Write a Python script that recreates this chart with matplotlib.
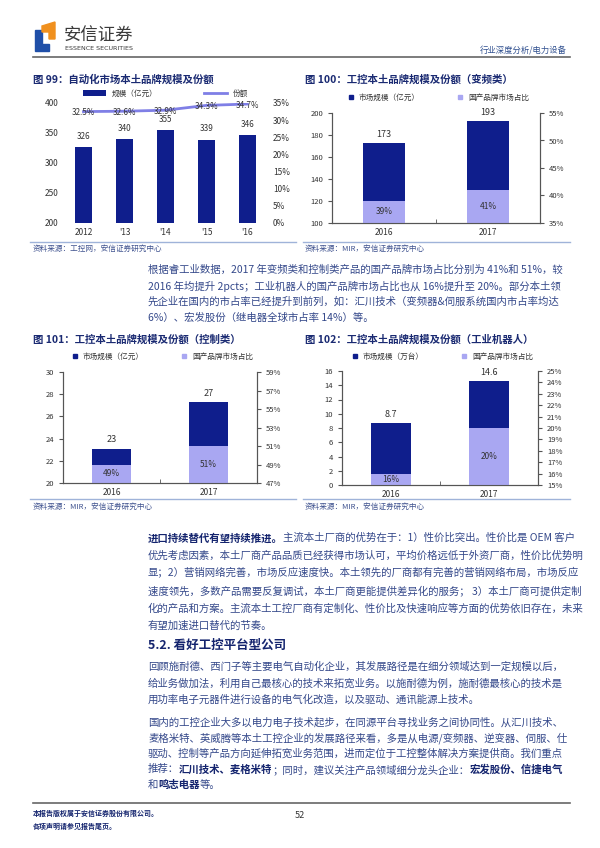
import numpy as np
import matplotlib
matplotlib.use("Agg")
import matplotlib.pyplot as plt
from matplotlib.lines import Line2D
from matplotlib.patches import Patch, Polygon

plt.rcParams["font.family"] = ["Noto Sans CJK SC", "DejaVu Sans"]

# ---- data ----
years_99 = ["2012", "'13", "'14", "'15", "'16"]
scale_99 = [326, 340, 355, 339, 346]          # 亿元
share_99 = [32.5, 32.6, 32.9, 34.3, 34.7]     # %

years_sub = ["2016", "2017"]
scale_100 = [173, 193]       # 变频类, 亿元
share_100 = [39, 41]
scale_101 = [23.1, 27.3]     # 控制类, 亿元
share_101 = [49, 51]
scale_102 = [8.7, 14.6]      # 工业机器人, 万台
share_102 = [16, 20]

NAVY = "#0f1e8c"
LIGHT = "#a9a7f2"
LINE = "#7f7fe6"
TITLE = "#1a2a72"
BODY = "#34488a"
BOLD = "#14246e"
SRC = "#3f528f"
TICK = "#333333"

W, H = 600, 848
fig = plt.figure(figsize=(6, 8.48), dpi=100)


def box(x0, y0, x1, y1):
    return [x0 / W, 1 - y1 / H, (x1 - x0) / W, (y1 - y0) / H]


def fx(x):
    return x / W


def fy(y):
    return 1 - y / H


def hline(x0, x1, y, color, lw):
    fig.add_artist(Line2D([fx(x0), fx(x1)], [fy(y), fy(y)], transform=fig.transFigure,
                          color=color, lw=lw))


def rich_line(x, y, parts, size=7.5):
    """Draw a line of text made of (string, bold) pieces next to each other."""
    r = fig.canvas.get_renderer()
    cx = x
    for s, bold in parts:
        t = fig.text(fx(cx), fy(y), s, fontsize=size, va="center", ha="left",
                     color=BOLD if bold else BODY, fontweight="bold" if bold else "normal")
        cx += t.get_window_extent(renderer=r).width


# ---- page header ----
logo = fig.add_axes(box(33, 20, 58, 54))
logo.set_xlim(33, 58)
logo.set_ylim(54, 20)
logo.axis("off")
logo.add_patch(Polygon([(35, 30), (42, 30), (42, 44), (49, 44), (49, 51), (35, 51)],
                       closed=True, color="#1f4fa8"))
logo.add_patch(Polygon([(42, 26), (55, 22), (55, 39), (49, 39), (49, 32), (42, 32)],
                       closed=True, color="#f0901e"))
fig.text(fx(64), fy(36), "安信证券", fontsize=12.5, color="#3a3a3a", va="center")
fig.text(fx(65), fy(48), "ESSENCE SECURITIES", fontsize=4.6, color="#3a3a3a", va="center",
         family="DejaVu Sans")
fig.text(fx(567), fy(51), "行业深度分析/电力设备", fontsize=6, color="#2f4f8f", ha="right", va="center")
hline(33, 570, 57, "#666666", 1.2)


# ---- figure 99 ----
fig.text(fx(33), fy(80), "图 99：自动化市场本土品牌规模及份额", fontsize=7.5, fontweight="bold",
         color=TITLE, va="center")
ax = fig.add_axes(box(63, 103, 268, 223))
x = np.arange(len(years_99))
ax.bar(x, scale_99, width=0.43, color=NAVY)
for xi, v in zip(x, scale_99):
    ax.annotate(str(v), (xi, v), xytext=(0, 4.5), textcoords="offset points",
                ha="center", va="bottom", fontsize=5.8, color=TICK)
ax.set_ylim(200, 400)
ax.set_yticks(np.arange(200, 401, 50))
ax.set_xlim(-0.5, len(years_99) - 0.5)
ax.set_xticks(x)
ax.set_xticklabels(years_99)
ax2 = ax.twinx()
ax2.plot(x, share_99, color=LINE, lw=2)
for xi, v in zip(x, share_99):
    ax2.text(xi, v - 0.3, f"{v}%", ha="center", va="center", fontsize=5.8, color=TICK)
ax2.set_ylim(0, 35)
ax2.set_yticks(np.arange(0, 36, 5))
ax2.yaxis.set_major_formatter(lambda v, p: f"{v:.0f}%")
for a in (ax, ax2):
    for sp in a.spines.values():
        sp.set_visible(False)
    a.tick_params(length=0, labelsize=6, labelcolor=TICK)
ax.legend([Patch(facecolor=NAVY), Line2D([], [], color=LINE, lw=2)], ["规模（亿元）", "份额"],
          loc="center", bbox_to_anchor=(0.5, 1.075), ncol=2, frameon=False, fontsize=5.5,
          handlelength=3, handleheight=0.8, columnspacing=6, labelcolor=TICK)
hline(30, 296, 242, "#9fb3d9", 1)
fig.text(fx(33), fy(249), "资料来源：工控网，安信证券研究中心", fontsize=5.5, color=SRC, va="center")


def stacked_chart(rect, title, tx, ty, scale, share, unit, ylim, ystep, rlim, rstep, fmt, leg_y):
    fig.text(fx(tx), fy(ty), title, fontsize=7.5, fontweight="bold", color=TITLE, va="center")
    ax = fig.add_axes(rect)
    x = np.arange(len(years_sub))
    ax.bar(x, scale, width=0.4, color=NAVY)
    for xi, v in zip(x, scale):
        ax.annotate(fmt.format(v), (xi, v), xytext=(0, 3), textcoords="offset points",
                    ha="center", va="bottom", fontsize=6.5, color=TICK)
    ax.set_ylim(*ylim)
    ax.set_yticks(np.arange(ylim[0], ylim[1] + 0.001, ystep))
    ax.set_xlim(-0.5, len(years_sub) - 0.5)
    ax.set_xticks(x)
    ax.set_xticklabels(years_sub)
    ax.set_xticks([0.5], minor=True)
    ax2 = ax.twinx()
    ax2.bar(x, share, width=0.4, color=LIGHT)
    for xi, s in zip(x, share):
        ax2.text(xi, (rlim[0] + s) / 2, f"{s}%", ha="center", va="center", fontsize=6, color=TICK)
    ax2.set_ylim(*rlim)
    ax2.set_yticks(np.arange(rlim[0], rlim[1] + 0.001, rstep))
    ax2.yaxis.set_major_formatter(lambda v, p: f"{v:.0f}%")
    for a in (ax, ax2):
        a.spines["top"].set_visible(False)
        for k in ("left", "right", "bottom"):
            a.spines[k].set_color("#555555")
            a.spines[k].set_linewidth(0.8)
        a.tick_params(axis="y", length=3, width=0.8, color="#555555", labelsize=5.5,
                      labelcolor=TICK, direction="out")
    ax.tick_params(axis="x", which="major", length=0, labelsize=6, labelcolor=TICK)
    ax.tick_params(axis="x", which="minor", length=3, direction="in", color="#555555")
    handles = [Line2D([], [], marker="s", ls="none", color=NAVY, ms=2.5),
               Line2D([], [], marker="s", ls="none", color=LIGHT, ms=2.5)]
    ax.legend(handles, [f"市场规模（{unit}）", "国产品牌市场占比"], loc="center",
              bbox_to_anchor=(0.5, leg_y), ncol=2, frameon=False, fontsize=5.5,
              handletextpad=0.1, columnspacing=4.2, labelcolor=TICK)


# ---- figure 100 ----
stacked_chart(box(332, 113, 540, 223), "图 100：工控本土品牌规模及份额（变频类）", 305, 80,
              scale_100, share_100, "亿元", (100, 200), 20, (35, 55), 5, "{:.0f}", 1.136)
hline(303, 570, 242, "#9fb3d9", 1)
fig.text(fx(305), fy(249), "资料来源：MIR，安信证券研究中心", fontsize=5.5, color=SRC, va="center")

# ---- paragraph 1 ----
para1 = [
    "根据睿工业数据，2017 年变频类和控制类产品的国产品牌市场占比分别为 41%和 51%，较",
    "2016 年均提升 2pcts；工业机器人的国产品牌市场占比也从 16%提升至 20%。部分本土领",
    "先企业在国内的市占率已经提升到前列，如：汇川技术（变频器&伺服系统国内市占率均达",
    "6%）、宏发股份（继电器全球市占率 14%）等。",
]
for i, s in enumerate(para1):
    rich_line(148, 270 + i * 16, [(s, False)])

# ---- figure 101 / 102 ----
stacked_chart(box(63, 372, 257, 483), "图 101：工控本土品牌规模及份额（控制类）", 33, 340,
              scale_101, share_101, "亿元", (20, 30), 2, (47, 59), 2, "{:.0f}", 1.135)
stacked_chart(box(342, 371, 538, 485), "图 102：工控本土品牌规模及份额（工业机器人）", 305, 340,
              scale_102, share_102, "万台", (0, 16), 2, (15, 25), 1, "{:.1f}", 1.123)
hline(30, 296, 499, "#9fb3d9", 1)
hline(303, 570, 499, "#9fb3d9", 1)
fig.text(fx(33), fy(507), "资料来源：MIR，安信证券研究中心", fontsize=5.5, color=SRC, va="center")
fig.text(fx(305), fy(507), "资料来源：MIR，安信证券研究中心", fontsize=5.5, color=SRC, va="center")

# ---- paragraph 2 ----
para2 = [
    [("进口持续替代有望持续推进。", True), ("主流本土厂商的优势在于：1）性价比突出。性价比是 OEM 客户", False)],
    [("优先考虑因素，本土厂商产品品质已经获得市场认可，平均价格远低于外资厂商，性价比优势明", False)],
    [("显；2）营销网络完善，市场反应速度快。本土领先的厂商都有完善的营销网络布局，市场反应", False)],
    [("速度领先，多数产品需要反复调试，本土厂商更能提供差异化的服务； 3）本土厂商可提供定制", False)],
    [("化的产品和方案。主流本土工控厂商有定制化、性价比及快速响应等方面的优势依旧存在，未来", False)],
    [("有望加速进口替代的节奏。", False)],
]
for i, parts in enumerate(para2):
    rich_line(148, 538 + i * 17.6, parts)

fig.text(fx(148), fy(645), "5.2. 看好工控平台型公司", fontsize=9, fontweight="bold", color=BOLD, va="center")

para3 = [
    "回顾施耐德、西门子等主要电气自动化企业，其发展路径是在细分领域达到一定规模以后，",
    "给业务做加法，利用自己最核心的技术来拓宽业务。以施耐德为例，施耐德最核心的技术是",
    "用功率电子元器件进行设备的电气化改造，以及驱动、通讯能源上技术。",
]
for i, s in enumerate(para3):
    rich_line(148, 667 + i * 16.5, [(s, False)])

para4 = [
    [("国内的工控企业大多以电力电子技术起步，在同源平台寻找业务之间协同性。从汇川技术、", False)],
    [("麦格米特、英威腾等本土工控企业的发展路径来看，多是从电源/变频器、逆变器、伺服、仕", False)],
    [("驱动、控制等产品方向延伸拓宽业务范围，进而定位于工控整体解决方案提供商。我们重点", False)],
    [("推荐：", False), ("汇川技术、麦格米特", True), ("；同时，建议关注产品领域细分龙头企业：", False),
     ("宏发股份、信捷电气", True)],
    [("和", False), ("鸣志电器", True), ("等。", False)],
]
for i, parts in enumerate(para4):
    rich_line(148, 722 + i * 15.8, parts)

# ---- footer ----
hline(33, 570, 803, "#666666", 1.2)
fig.text(fx(33), fy(813), "本报告版权属于安信证券股份有限公司。", fontsize=5, fontweight="bold",
         color=BOLD, va="center")
fig.text(fx(33), fy(826), "各项声明请参见报告尾页。", fontsize=5, fontweight="bold",
         color=BOLD, va="center")
fig.text(fx(300), fy(815), "52", fontsize=6.5, color="#333333", ha="center", va="center")

fig.savefig("out.png", dpi=100)
